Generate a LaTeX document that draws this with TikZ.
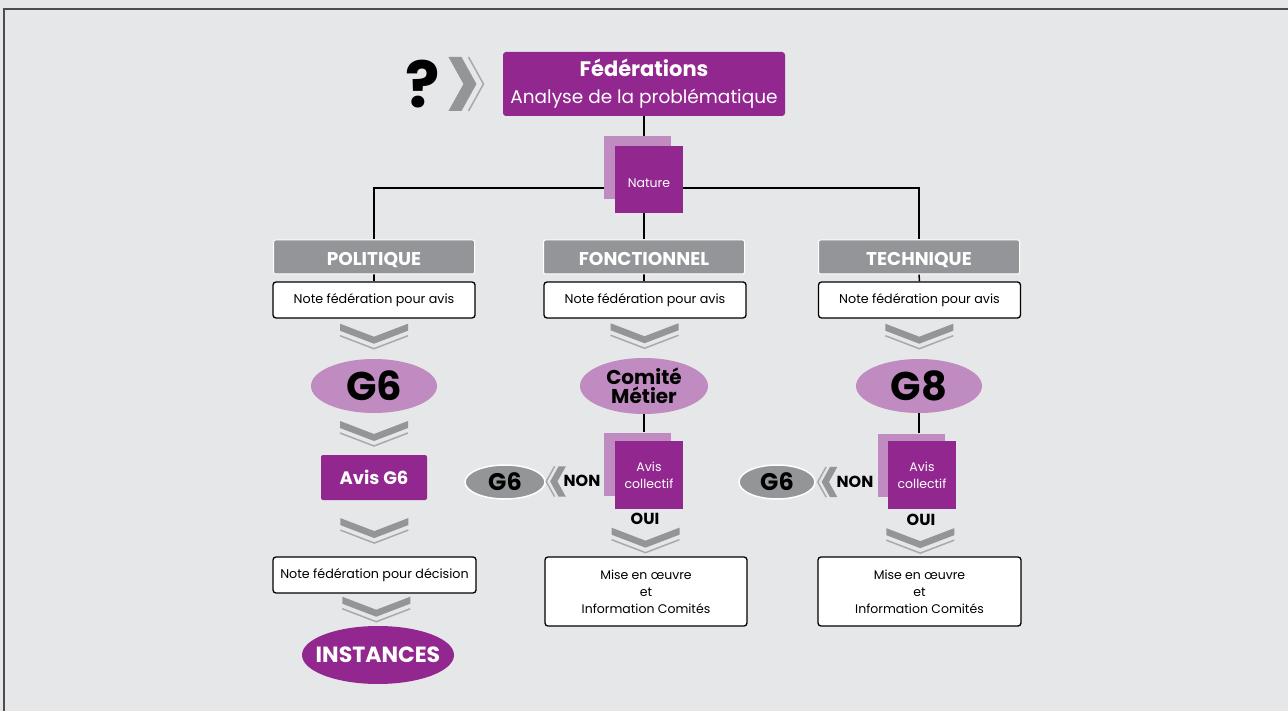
\documentclass[tikz,border=0pt]{standalone}
\usepackage{fontspec}
\setmainfont{Poppins}
\usetikzlibrary{positioning}
\usetikzlibrary{shapes.geometric}
\usetikzlibrary{calc}

\definecolor{fedviolet}{HTML}{92278F}
\definecolor{fedmauve}{HTML}{BF8BC0}
\definecolor{fedgris}{HTML}{939598}
\definecolor{fedgrisclair}{HTML}{A7A9AC}
\definecolor{fedfond}{HTML}{E6E7E8}
\definecolor{fedcadre}{HTML}{4D4D4F}

\pgfdeclarelayer{fond}
\pgfdeclarelayer{liens}
\pgfsetlayers{fond,liens,main}

\tikzset{
  titrebox/.style={fill=fedviolet, rounded corners=3pt, text=white, align=center, minimum width=282pt, minimum height=64pt, inner sep=0pt},
  grisbox/.style={fill=fedgris, draw=white, line width=1pt, rounded corners=2pt, minimum width=201pt, minimum height=34pt, inner sep=0pt, text height=18pt, text depth=0pt, text=white, font=\bfseries\fontsize{18.5}{18}\selectfont},
  notebox/.style={fill=white, draw=black, line width=1.3pt, rounded corners=3pt, minimum width=202pt, minimum height=36pt, inner sep=0pt, align=center, font=\fontsize{12.7}{17}\selectfont},
  bulle/.style={ellipse, fill=fedmauve, minimum width=126pt, minimum height=54pt, inner sep=0pt, align=center},
  petitebulle/.style={ellipse, fill=fedgris, draw=white, line width=1.5pt, minimum width=80pt, minimum height=34pt, inner sep=0pt, font=\bfseries\fontsize{24}{24}\selectfont},
  carre/.style={fill=fedviolet, minimum width=68pt, minimum height=67pt, inner sep=0pt, text=white, align=center, font=\fontsize{12.5}{17}\selectfont},
  ombre/.style={fill=fedmauve, minimum width=67pt, minimum height=63pt, inner sep=0pt},
  motgras/.style={font=\bfseries\fontsize{16}{17}\selectfont, inner sep=0pt},
  lien/.style={draw=black, line width=1.5pt},
  % chevrons
  chevbas/.pic={
    \fill[fedgris] (-34,-13) -- (0,0) -- (34,-13) -- (34,-6) -- (0,7) -- (-34,-6) -- cycle;
    \draw[fedgrisclair, line width=1.5pt] (-34,-1) -- (0,12) -- (34,-1);
  },
  chevdroite/.pic={
    \fill[fedgris] (-20,-27) -- (-7,-27) -- (8,0) -- (-7,27) -- (-20,27) -- (-5,0) -- cycle;
    \draw[fedgrisclair, line width=1.5pt] (0,-27) -- (15,0) -- (0,27);
  },
}

\begin{document}
\begin{tikzpicture}[x=1pt, y=-1pt]
  \useasboundingbox (0,0) rectangle (1288,711);
  \begin{pgfonlayer}{fond}
    \fill[fedfond] (0,0) rectangle (1288,711);
    \draw[fedcadre, line width=1.8pt] (4,711) -- (4,9) -- (1288,9);
  \end{pgfonlayer}

  % haut
  \node[titrebox, font=\fontsize{18.5}{27}\selectfont] (titre) at (644,84) {{\bfseries\fontsize{21}{27}\selectfont Fédérations}\\Analyse de la problématique};
  \node[font=\bfseries\fontsize{64}{64}\selectfont, inner sep=0pt] (question) at (423,84) {?};
  \pic at ($(question.east)!0.45!(titre.west)$) {chevdroite};

  \node[ombre] (ombrenature) at (637,168) {};
  \node[carre, text height=17pt, text depth=0pt] (nature) at (649,179.5) {Nature};
  \coordinate (noeud) at (644,188);

  % trois colonnes
  \node[grisbox] (politique) at (374,257) {POLITIQUE};
  \node[grisbox] (fonctionnel) at (644,257) {FONCTIONNEL};
  \node[grisbox] (technique) at (919,257) {TECHNIQUE};

  \node[notebox] (note1) at (374,300) {Note fédération pour avis};
  \node[notebox] (note2) at (645,300) {Note fédération pour avis};
  \node[notebox] (note3) at (919.5,300) {Note fédération pour avis};

  \node[bulle, font=\bfseries\fontsize{40}{40}\selectfont] (g6) at (374,386) {G6};
  \node[bulle, minimum width=128pt, minimum height=56pt, font=\bfseries\fontsize{20}{19}\selectfont] (comite) at (644,386) {Comité\\Métier};
  \node[bulle, font=\bfseries\fontsize{40}{40}\selectfont] (g8) at (919,386) {G8};

  % politique
  \node[fill=fedviolet, rounded corners=2pt, minimum width=106pt, minimum height=45pt, inner sep=0pt, text=white, font=\bfseries\fontsize{18}{18}\selectfont] (avisg6) at (374,477.5) {Avis G6};
  \node[notebox, minimum width=203pt] (decision) at (374.5,575) {Note fédération pour décision};
  \node[ellipse, fill=fedviolet, minimum width=152pt, minimum height=58pt, inner sep=0pt, text=white, font=\bfseries\fontsize{22}{22}\selectfont] (instances) at (378,655) {\makebox[0pt]{INSTANCES}};

  % fonctionnel
  \node[ombre] (ombre2) at (637.5,464) {};
  \node[carre, minimum height=68pt] (avis2) at (649,475) {Avis\\collectif};
  \node[motgras] (non2) at (582,481) {NON};
  \node[petitebulle] (g6b) at (505,482) {G6};
  \node[motgras] (oui2) at (645,519) {OUI};
  \node[notebox, minimum height=69pt, font=\fontsize{12.5}{17}\selectfont] (mise2) at (646,591.5) {Mise en œuvre\\et\\Information Comités};

  % technique
  \node[ombre] (ombre3) at (911,465) {};
  \node[carre, minimum height=68pt] (avis3) at (922,475) {Avis\\collectif};
  \node[motgras] (non3) at (855,482) {NON};
  \node[petitebulle, minimum width=76pt] (g6c) at (777,482) {G6};
  \node[motgras] (oui3) at (921,520) {OUI};
  \node[notebox, minimum width=203pt, minimum height=69pt, font=\fontsize{12.5}{17}\selectfont] (mise3) at (919.5,591.5) {Mise en œuvre\\et\\Information Comités};

  % traits
  \begin{pgfonlayer}{liens}
    \draw[lien] (titre.south) -- (noeud);
    \draw[lien] (politique.north) |- (noeud) -| (technique.north);
    \draw[lien] (noeud) -- (fonctionnel.north);
    \draw[lien] (politique) -- (note1);
    \draw[lien] (fonctionnel) -- (fonctionnel |- note2.north);
    \draw[lien] (technique) -- (note3);
    \draw[lien] (comite.south) -- (comite.south |- ombre2.north);
    \draw[lien] (g8.south) -- (g8.south |- ombre3.north);
  \end{pgfonlayer}

  % chevrons
  \pic at ($(note1.south)!0.45!(g6.north)$) {chevbas};
  \pic at ($(g6.south)!0.5!(avisg6.north)$) {chevbas};
  \pic at ($(avisg6.south)!0.55!(decision.north)$) {chevbas};
  \pic at ($(decision.south)!0.5!(instances.north)$) {chevbas};
  \pic at ($(note2.south)!0.45!(comite.north)$) {chevbas};
  \pic at ($(note3.south)!0.45!(g8.north)$) {chevbas};
  \pic at ($(oui2.south)!0.5!(mise2.north)$) {chevbas};
  \pic at ($(oui3.south)!0.5!(mise3.north)$) {chevbas};
  \pic[xscale=-0.56, yscale=0.56] at ($(g6b.east)!0.5!(non2.west)$) {chevdroite};
  \pic[xscale=-0.56, yscale=0.56] at ($(g6c.east)!0.5!(non3.west)$) {chevdroite};
\end{tikzpicture}
\end{document}
